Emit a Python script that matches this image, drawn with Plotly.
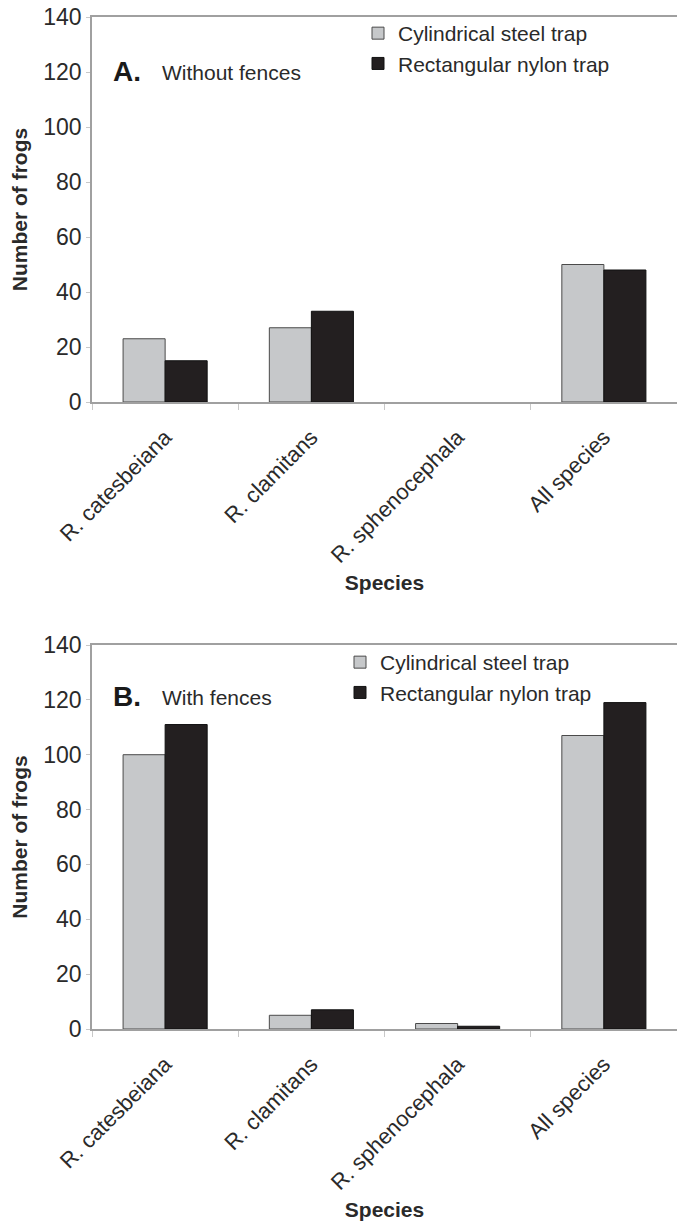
import plotly.graph_objects as go
from plotly.subplots import make_subplots

species = ["R. catesbeiana", "R. clamitans", "R. sphenocephala", "All species"]
series_names = ["Cylindrical steel trap", "Rectangular nylon trap"]

# Panel A: without fences
steel_without = [23, 27, 0, 50]
nylon_without = [15, 33, 0, 48]

# Panel B: with fences
steel_with = [100, 5, 2, 107]
nylon_with = [111, 7, 1, 119]

y_ticks = [0, 20, 40, 60, 80, 100, 120, 140]

FONT = "Liberation Sans, Arial, sans-serif"
TEXT = "#2a2a2a"
AXIS = "#a0a0a0"
STEEL_FILL = "#c6c8ca"
STEEL_LINE = "#4a4a4a"
NYLON_FILL = "#231f20"
NYLON_LINE = "#111111"

W, H = 677, 1224
ML, MR, MT, MB = 92, 0, 17, 195
plot_h = H - MT - MB

def frac(py):
    return 1 - (py - MT) / plot_h

def outline(values):
    # empty bars get no outline at all
    return [1 if v > 0 else 0 for v in values]

fig = make_subplots(rows=2, cols=1, shared_xaxes=False)

panels = [
    (1, steel_without, nylon_without, "legend"),
    (2, steel_with, nylon_with, "legend2"),
]
for row, steel, nylon, leg in panels:
    fig.add_trace(go.Bar(
        x=species, y=steel, name=series_names[0], legend=leg,
        marker=dict(color=STEEL_FILL, line=dict(color=STEEL_LINE, width=outline(steel))),
    ), row=row, col=1)
    fig.add_trace(go.Bar(
        x=species, y=nylon, name=series_names[1], legend=leg,
        marker=dict(color=NYLON_FILL, line=dict(color=NYLON_LINE, width=outline(nylon))),
    ), row=row, col=1)

fig.update_layout(
    width=W, height=H,
    margin=dict(l=ML, r=MR, t=MT, b=MB, autoexpand=False),
    paper_bgcolor="white", plot_bgcolor="white",
    barmode="group", bargap=0.425, bargroupgap=0,
    font=dict(family=FONT, size=21, color=TEXT),
    xaxis=dict(domain=[0, 1]),
    xaxis2=dict(domain=[0, 1]),
    yaxis=dict(domain=[frac(402), 1]),
    yaxis2=dict(domain=[0, frac(645)]),
    legend=dict(
        x=(358 - ML) / (W - ML), y=frac(13), xanchor="left", yanchor="top",
        bgcolor="rgba(0,0,0,0)", font=dict(size=21, color=TEXT),
        tracegroupgap=0, itemclick=False,
    ),
    legend2=dict(
        x=(340 - ML) / (W - ML), y=frac(642), xanchor="left", yanchor="top",
        bgcolor="rgba(0,0,0,0)", font=dict(size=21, color=TEXT),
        tracegroupgap=0, itemclick=False,
    ),
    showlegend=True,
)

for ax in ["xaxis", "xaxis2"]:
    fig.layout[ax].update(
        automargin=False,
        showline=True, linecolor=AXIS, linewidth=1.5, mirror=True,
        ticks="outside", tickson="boundaries", ticklen=6, tickcolor="#c8c8c8",
        tickangle=-45, ticklabelstandoff=12,
        tickfont=dict(size=22, color=TEXT),
        showgrid=False, zeroline=False,
        title=dict(text="<b>Species</b>", font=dict(size=21, color=TEXT), standoff=8),
    )

for ax in ["yaxis", "yaxis2"]:
    fig.layout[ax].update(
        automargin=False,
        range=[0, 140], tickvals=y_ticks,
        showline=True, linecolor=AXIS, linewidth=1.5,
        ticks="outside", ticklen=4, tickcolor="#c8c8c8",
        tickfont=dict(size=23, color=TEXT),
        showgrid=False, zeroline=False,
        title=dict(text="<b>Number of frogs</b>", font=dict(size=21, color=TEXT), standoff=10),
    )

# Panel letters and captions
panel_labels = [("A.", "Without fences", "y domain", 71), ("B.", "With fences", "y2 domain", 696)]
for letter, caption, yref, py in panel_labels:
    if yref == "y domain":
        top, bot = 17, 402
    else:
        top, bot = 645, 1029
    yf = 1 - (py - top) / (bot - top)
    fig.add_annotation(
        text=f"<b>{letter}</b>", xref="paper", yref=yref,
        x=(111 - ML) / (W - ML), y=yf, xanchor="left", yanchor="middle",
        showarrow=False, font=dict(size=28, color="#1a1a1a", family=FONT),
    )
    fig.add_annotation(
        text=caption, xref="paper", yref=yref,
        x=(160 - ML) / (W - ML), y=yf - 0.004, xanchor="left", yanchor="middle",
        showarrow=False, font=dict(size=21, color=TEXT, family=FONT),
    )

fig.write_html("out.html")
